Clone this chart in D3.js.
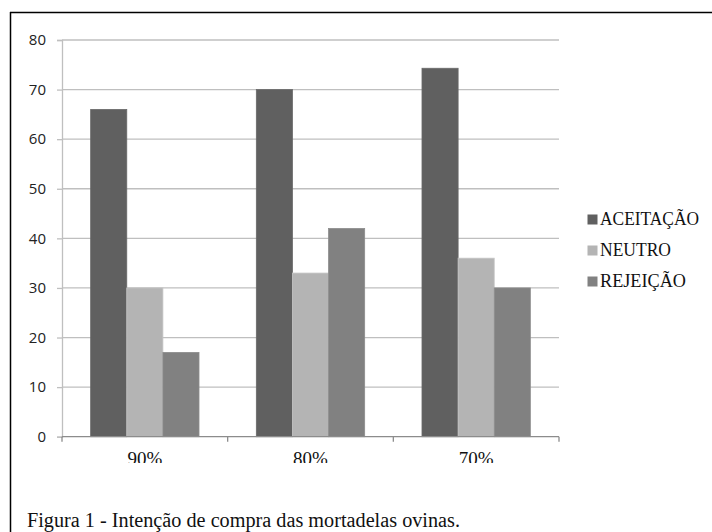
<!DOCTYPE html>
<html><head><meta charset="utf-8">
<script src="https://cdn.jsdelivr.net/npm/d3@7/dist/d3.min.js"></script>
<style>html,body{margin:0;padding:0;background:#fff;}</style>
</head><body>
<script>
const categories = ["90%", "80%", "70%"];
const seriesNames = ["ACEITAÇÃO", "NEUTRO", "REJEIÇÃO"];
const aceitacao = [66, 70, 74.3];
const neutro = [30, 33, 36];
const rejeicao = [17, 42, 30];
const yTicks = [0, 10, 20, 30, 40, 50, 60, 70, 80];
const caption = "Figura 1 - Intenção de compra das mortadelas ovinas.";
const colors = ["#606060", "#b4b4b4", "#818181"];
const legendWidths = [99, 71, 86];

const W = 712, H = 532;
const serif = "'Liberation Serif', 'Times New Roman', Times, serif";
const svg = d3.select("body").append("svg").attr("width", W).attr("height", H);
svg.append("rect").attr("width", W).attr("height", H).attr("fill", "#fff");

// frame
svg.append("line").attr("x1", 10).attr("x2", W).attr("y1", 12.5).attr("y2", 12.5)
  .attr("stroke", "#000").attr("stroke-width", 1.5);
svg.append("line").attr("x1", 10.5).attr("x2", 10.5).attr("y1", 12).attr("y2", H)
  .attr("stroke", "#000").attr("stroke-width", 1.5);

const x0 = d3.scaleBand().domain(categories).range([62, 559]).padding(0);
const groupW = x0.bandwidth() * 0.654;
const x1 = d3.scaleBand().domain(seriesNames)
  .range([(x0.bandwidth() - groupW) / 2, (x0.bandwidth() + groupW) / 2]).padding(0);
const y = d3.scaleLinear().domain([0, 80]).range([436.7, 40]);

// gridlines
svg.append("g").selectAll("line").data(yTicks.filter(d => d > 0)).join("line")
  .attr("x1", 62).attr("x2", 559).attr("y1", d => y(d)).attr("y2", d => y(d))
  .attr("stroke", "#bfbfbf").attr("stroke-width", 1.3);

// y axis
const yAxis = svg.append("g").attr("transform", "translate(62,0)")
  .call(d3.axisLeft(y).tickValues(yTicks).tickSize(5).tickPadding(11));
yAxis.select(".domain").attr("stroke", "#bfbfbf").attr("stroke-width", 1.3);
yAxis.selectAll(".tick line").attr("stroke", "#bfbfbf").attr("stroke-width", 1.3);
yAxis.selectAll(".tick text").attr("font-family", "'Open Sans', sans-serif")
  .attr("font-size", 15).attr("fill", "#222");

// bars
const seriesData = [aceitacao, neutro, rejeicao];
const groups = svg.append("g").selectAll("g").data(categories).join("g")
  .attr("transform", d => `translate(${x0(d)},0)`);
groups.selectAll("rect").data((c, i) => seriesNames.map((s, j) => ({s, j, v: seriesData[j][i]})))
  .join("rect")
  .attr("x", d => x1(d.s)).attr("width", x1.bandwidth())
  .attr("y", d => y(d.v)).attr("height", d => y(0) - y(d.v))
  .attr("fill", d => colors[d.j])
  .attr("stroke", d => d3.color(colors[d.j]).brighter(0.25))
  .attr("stroke-width", 0.8);

// x axis
svg.append("defs").append("clipPath").attr("id", "xclip")
  .append("rect").attr("x", 0).attr("y", 0).attr("width", W).attr("height", 463);
const xAxis = svg.append("g").attr("transform", `translate(0,${y(0)})`);
xAxis.append("line").attr("x1", 62).attr("x2", 559).attr("y1", 0).attr("y2", 0)
  .attr("stroke", "#8c8c8c").attr("stroke-width", 1.3);
const edges = categories.map(c => x0(c)).concat([x0(categories[categories.length - 1]) + x0.bandwidth()]);
xAxis.selectAll("line.tk").data(edges).join("line").attr("class", "tk")
  .attr("x1", d => d).attr("x2", d => d).attr("y1", 0).attr("y2", 5)
  .attr("stroke", "#8c8c8c").attr("stroke-width", 1.3);
svg.append("g").attr("clip-path", "url(#xclip)").selectAll("text").data(categories).join("text")
  .attr("x", d => x0(d) + x0.bandwidth() / 2).attr("y", 464.5)
  .attr("text-anchor", "middle")
  .attr("font-family", serif)
  .attr("font-size", 19).attr("fill", "#111").text(d => d);

// legend
const leg = svg.append("g").selectAll("g").data(seriesNames).join("g")
  .attr("transform", (d, i) => `translate(587.5,${224.5 + i * 31})`);
leg.append("rect").attr("x", 0).attr("y", -10).attr("width", 10).attr("height", 10)
  .attr("fill", (d, i) => colors[i]);
leg.append("text").attr("x", 12.5).attr("y", 0)
  .attr("font-family", serif)
  .attr("font-size", 19).attr("fill", "#111")
  .attr("textLength", (d, i) => legendWidths[i]).attr("lengthAdjust", "spacingAndGlyphs")
  .text(d => d);

// caption
svg.append("text").attr("x", 27).attr("y", 526.5)
  .attr("font-family", serif)
  .attr("font-size", 20).attr("fill", "#111")
  .attr("textLength", 433).attr("lengthAdjust", "spacingAndGlyphs")
  .text(caption);
</script>
</body></html>
